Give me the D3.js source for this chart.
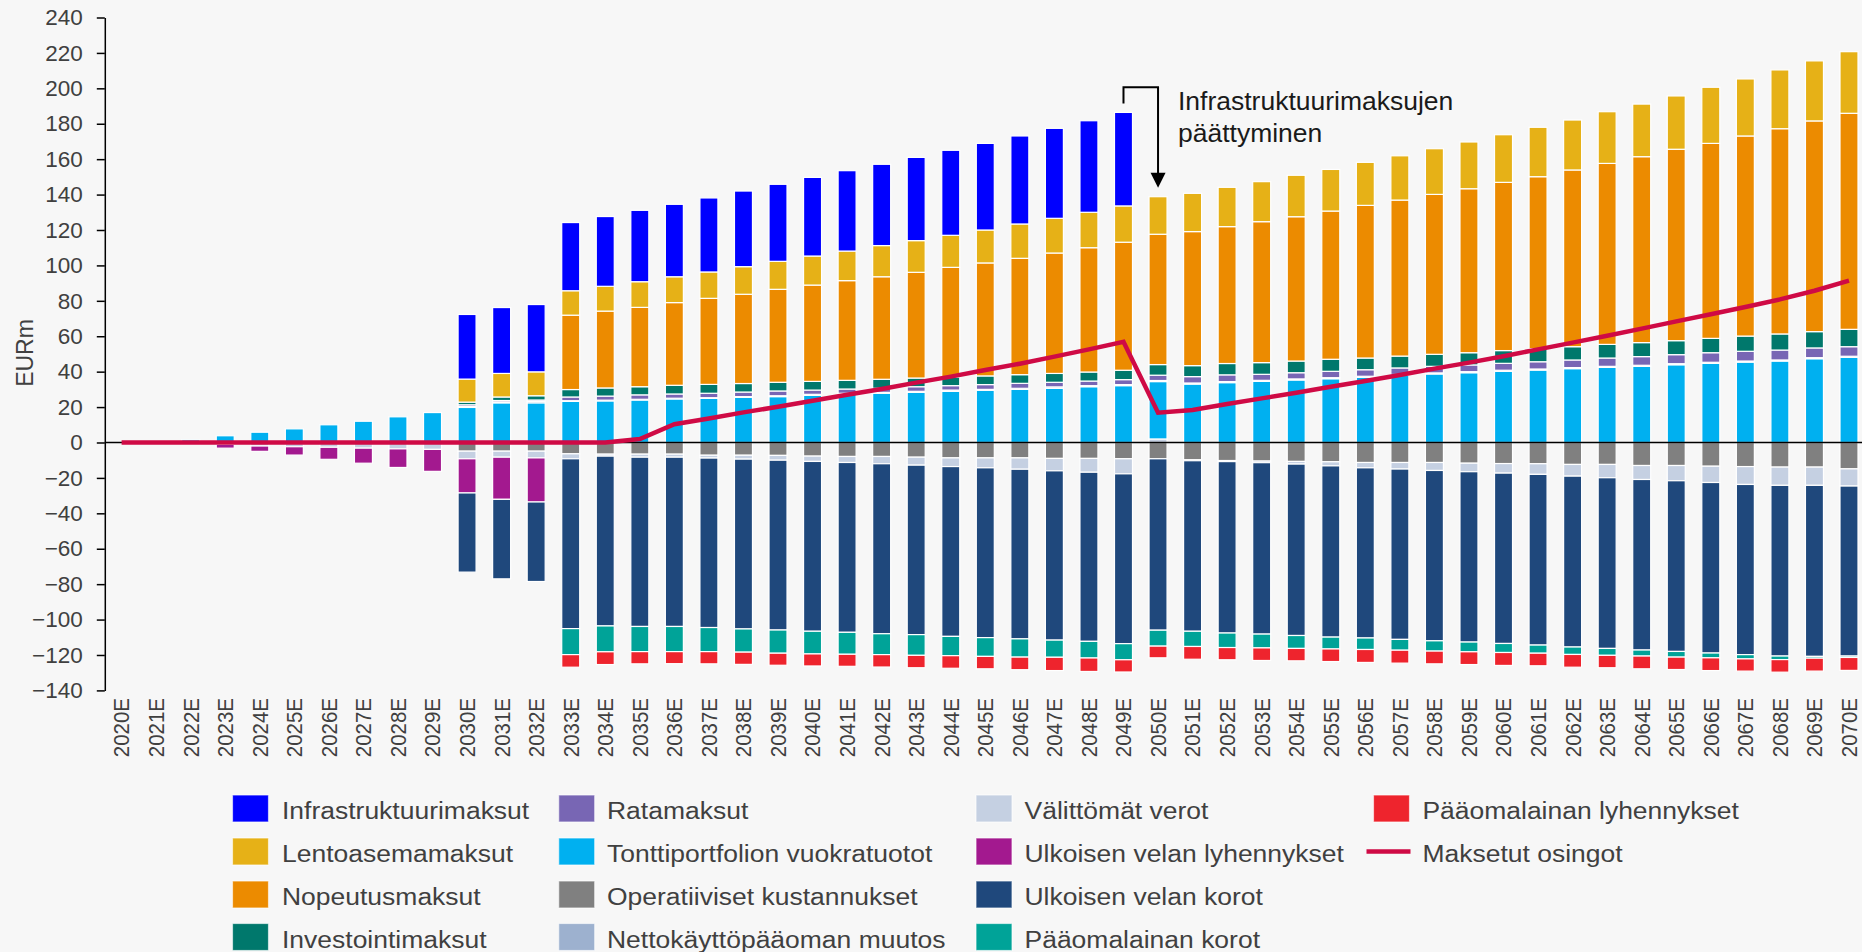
<!DOCTYPE html>
<html>
<head>
<meta charset="utf-8">
<script src="https://cdn.jsdelivr.net/npm/d3@7"></script>
<style>
  html, body { margin: 0; padding: 0; background: #f7f7f7; }
  svg { display: block; font-family: "Liberation Sans", Arial, sans-serif; }
</style>
</head>
<body>
<div id="chart"></div>
<script>
// category labels
const years = [
  '2020E','2021E','2022E','2023E','2024E','2025E','2026E','2027E','2028E','2029E',
  '2030E','2031E','2032E','2033E','2034E','2035E','2036E','2037E','2038E','2039E',
  '2040E','2041E','2042E','2043E','2044E','2045E','2046E','2047E','2048E','2049E',
  '2050E','2051E','2052E','2053E','2054E','2055E','2056E','2057E','2058E','2059E',
  '2060E','2061E','2062E','2063E','2064E','2065E','2066E','2067E','2068E','2069E','2070E'
];

// EURm
const tontti = [0, 0, 1.5, 3.8, 5.8, 7.7, 10.0, 12.0, 14.5, 16.9,
  19.8, 22.4, 22.4, 23.2, 23.5, 24.0, 24.6, 24.9, 25.5, 25.9,
  26.6, 27.2, 27.8, 28.3, 28.9, 29.5, 30.0, 30.6, 31.5, 32.1,
  32.4, 33.0, 33.8, 34.5, 35.3, 36.0, 36.8, 37.9, 38.7, 39.4,
  40.2, 40.9, 41.7, 42.4, 43.0, 43.9, 44.7, 45.4, 46.0, 47.3, 48.1];
const netto = [0, 0, 0, 0, 0, 0, 0, 0, 0, 0,
  0.5, 0.5, 0.8, 0.4, 0.4, 0.4, 0.4, 0.4, 0.4, 0.5,
  0.6, 0.6, 0.5, 0.6, 0.7, 0.5, 0.6, 0.8, 0.6, 0.6,
  0.6, 0.6, 0.6, 0.6, 0.6, 0.6, 0.6, 0.5, 0.6, 0.6,
  0.6, 0.6, 0.6, 0.6, 0.6, 0.6, 0.6, 0.6, 0.6, 0.6, 0.6];
const rata = [0, 0, 0, 0, 0, 0, 0, 0, 0, 0,
  1.0, 0.8, 0.8, 2.1, 2.3, 2.5, 2.4, 2.5, 2.6, 2.7,
  2.4, 2.4, 2.3, 2.6, 2.5, 2.7, 2.8, 2.6, 2.6, 2.8,
  3.0, 3.6, 3.8, 3.4, 3.5, 3.6, 3.7, 3.7, 3.7, 3.8,
  3.9, 4.1, 4.3, 4.7, 4.9, 5.1, 5.4, 5.5, 5.6, 5.5, 5.4];
const investointi = [0, 0, 0, 0, 0, 0, 0, 0, 0, 0,
  1.5, 2.0, 2.4, 4.2, 4.6, 4.6, 4.9, 5.0, 4.8, 4.9,
  4.9, 4.9, 5.1, 4.9, 4.9, 4.9, 4.9, 5.0, 5.1, 5.3,
  6.0, 6.2, 6.4, 6.6, 6.6, 6.8, 6.6, 6.7, 6.8, 6.9,
  7.2, 7.4, 7.5, 7.7, 7.9, 7.9, 8.1, 8.6, 9.1, 9.2, 9.8];
const nopeutus = [0, 0, 0, 0, 0, 0, 0, 0, 0, 0,
  0, 0, 0, 42.0, 43.4, 44.8, 46.7, 48.6, 50.4, 52.5,
  54.4, 56.3, 57.9, 59.7, 61.9, 63.8, 65.7, 68.0, 70.2, 72.3,
  73.6, 75.7, 77.3, 79.6, 81.5, 83.7, 86.2, 88.1, 90.3, 92.6,
  95.0, 97.1, 99.8, 102.2, 105.0, 108.1, 110.1, 113.0, 115.9, 119.0, 122.0];
const lentoasema = [0, 0, 0, 0, 0, 0, 0, 0, 0, 0,
  13.0, 13.3, 13.5, 13.8, 14.0, 14.5, 14.6, 14.9, 15.6, 15.8,
  16.4, 16.7, 17.6, 17.9, 18.1, 18.6, 19.4, 19.6, 20.0, 20.5,
  21.2, 21.6, 22.2, 22.6, 23.4, 23.5, 24.3, 25.0, 25.8, 26.4,
  26.9, 27.9, 28.2, 29.2, 29.7, 30.1, 31.7, 32.2, 33.2, 33.9, 34.8];
const infra = [0, 0, 0, 0, 0, 0, 0, 0, 0, 0,
  36.5, 37.2, 38.0, 38.5, 39.4, 40.3, 40.9, 41.8, 42.7, 43.5,
  44.4, 45.4, 45.9, 47.0, 48.0, 48.9, 49.7, 50.8, 51.7, 52.8,
  0, 0, 0, 0, 0, 0, 0, 0, 0, 0,
  0, 0, 0, 0, 0, 0, 0, 0, 0, 0, 0];
const operatiiviset = [0, 0, 0, 0, 0, 0, 0, 0, 0, 0,
  -4.9, -4.9, -4.9, -6.4, -6.6, -6.6, -6.6, -7.2, -7.2, -7.3,
  -7.7, -7.9, -7.9, -8.3, -8.7, -8.7, -8.7, -9.0, -9.0, -9.2,
  -9.2, -9.8, -10.2, -10.5, -10.7, -10.9, -11.3, -11.3, -11.3, -11.7,
  -11.9, -12.0, -12.4, -12.4, -13.0, -13.0, -13.4, -13.6, -13.9, -13.9, -14.9];
const verot = [0, 0, -0.3, -1.0, -2.0, -2.4, -2.7, -3.2, -3.6, -3.9,
  -4.3, -3.4, -3.8, -2.8, -1.1, -1.7, -1.7, -1.6, -2.2, -2.7,
  -3.0, -3.4, -4.1, -4.5, -4.9, -5.6, -6.4, -7.0, -7.8, -8.5,
  2.0, -0.5, -0.6, -0.9, -1.5, -2.3, -3.0, -3.7, -4.5, -4.8,
  -5.4, -6.0, -6.6, -7.5, -7.9, -8.6, -9.2, -10.1, -10.3, -10.3, -9.7];
const ulkLyhennys = [0, 0, -0.6, -2.2, -3.0, -4.7, -6.8, -8.5, -10.5, -12.4,
  -19.3, -23.8, -24.9, 0, 0, 0, 0, 0, 0, 0,
  0, 0, 0, 0, 0, 0, 0, 0, 0, 0,
  0, 0, 0, 0, 0, 0, 0, 0, 0, 0,
  0, 0, 0, 0, 0, 0, 0, 0, 0, 0, 0];
const ulkKorot = [0, 0, 0, 0, 0, 0, 0, 0, 0, 0,
  -44.7, -44.9, -44.9, -95.9, -95.9, -95.6, -95.6, -95.7, -95.9, -95.9,
  -95.9, -95.9, -96.0, -95.7, -95.9, -95.9, -95.8, -95.6, -95.5, -95.9,
  -96.8, -96.3, -96.8, -96.8, -96.8, -96.7, -96.1, -96.2, -96.2, -96.2,
  -96.2, -96.4, -96.5, -96.4, -96.3, -96.4, -96.3, -96.1, -96.4, -96.6, -96.0];
const plKorot = [0, 0, 0, 0, 0, 0, 0, 0, 0, 0,
  0, 0, 0, -14.7, -14.6, -14.2, -14.2, -13.6, -13.1, -13.1,
  -12.8, -12.4, -11.8, -11.7, -10.9, -10.6, -10.3, -9.7, -9.4, -9.1,
  -9.0, -8.6, -8.2, -7.8, -7.3, -6.7, -6.5, -6.1, -5.8, -5.5,
  -5.1, -4.6, -4.2, -3.9, -3.4, -3.2, -2.7, -2.4, -2.0, -1.0, -0.8];
const plLyhennys = [0, 0, 0, 0, 0, 0, 0, 0, 0, 0,
  0, 0, 0, -7.1, -7.2, -6.9, -6.8, -6.9, -6.9, -6.8,
  -6.8, -6.8, -7.0, -7.0, -7.1, -7.0, -7.1, -7.5, -7.6, -6.9,
  -6.6, -7.2, -6.9, -7.1, -7.0, -7.1, -7.3, -7.3, -7.2, -7.2,
  -7.3, -7.1, -7.2, -7.0, -7.2, -7.0, -7.2, -6.9, -7.1, -7.3, -7.3];
const osingot = [0, 0, 0, 0, 0, 0, 0, 0, 0, 0,
  0, 0, 0, 0, 0, 2.0, 10.3, 13.6, 17.0, 20.2,
  23.6, 27.0, 30.2, 33.8, 37.2, 40.9, 44.5, 48.5, 52.6, 56.9,
  16.8, 18.4, 21.7, 24.9, 28.1, 31.5, 34.7, 38.1, 41.7, 45.1,
  48.7, 52.6, 56.4, 60.3, 64.3, 68.4, 72.4, 76.5, 80.8, 85.7, 91.4];

const yTicks = [-140, -120, -100, -80, -60, -40, -20, 0, 20, 40, 60, 80, 100, 120, 140, 160, 180, 200, 220, 240];

// stacking order (diverging): first keys sit nearest to zero
const series = [
  {key: 'operatiiviset', label: 'Operatiiviset kustannukset', color: '#808080', values: operatiiviset},
  {key: 'verot', label: 'Välittömät verot', color: '#c5d0e2', values: verot},
  {key: 'tontti', label: 'Tonttiportfolion vuokratuotot', color: '#00b0f0', values: tontti},
  {key: 'netto', label: 'Nettokäyttöpääoman muutos', color: '#9db1cf', values: netto},
  {key: 'rata', label: 'Ratamaksut', color: '#7866b4', values: rata},
  {key: 'investointi', label: 'Investointimaksut', color: '#00786c', values: investointi},
  {key: 'nopeutus', label: 'Nopeutusmaksut', color: '#ec8b00', values: nopeutus},
  {key: 'lentoasema', label: 'Lentoasemamaksut', color: '#e6b117', values: lentoasema},
  {key: 'infra', label: 'Infrastruktuurimaksut', color: '#0000ff', values: infra},
  {key: 'ulkLyhennys', label: 'Ulkoisen velan lyhennykset', color: '#a3198f', values: ulkLyhennys},
  {key: 'ulkKorot', label: 'Ulkoisen velan korot', color: '#1f487c', values: ulkKorot},
  {key: 'plKorot', label: 'Pääomalainan korot', color: '#00a398', values: plKorot},
  {key: 'plLyhennys', label: 'Pääomalainan lyhennykset', color: '#ee242d', values: plLyhennys}
];
const lineColor = '#cf0a45';

// legend columns, top to bottom
const legendCols = [
  ['infra', 'lentoasema', 'nopeutus', 'investointi'],
  ['rata', 'tontti', 'operatiiviset', 'netto'],
  ['verot', 'ulkLyhennys', 'ulkKorot', 'plKorot'],
  ['plLyhennys', 'osingot']
];

const width = 1862, height = 952;
const svg = d3.select('#chart').append('svg')
  .attr('width', width).attr('height', height);
svg.append('rect').attr('width', width).attr('height', height).attr('fill', '#f7f7f7');

const x = d3.scalePoint().domain(years).range([121.6, 1849]);
const y = d3.scaleLinear().domain([-140, 240]).range([690.4, 17.5]);
const barW = 18;
const axisX = 104.8;

const rows = years.map((yr, i) => {
  const r = {year: yr};
  series.forEach(s => { r[s.key] = s.values[i]; });
  return r;
});
const stacked = d3.stack()
  .keys(series.map(s => s.key))
  .offset(d3.stackOffsetDiverging)(rows);
const colorOf = Object.fromEntries(series.map(s => [s.key, s.color]));

// bars
const barG = svg.append('g');
stacked.forEach(layer => {
  barG.append('g')
    .attr('fill', colorOf[layer.key])
    .selectAll('rect')
    .data(layer.filter(d => Math.abs(d[1] - d[0]) > 0.001))
    .join('rect')
    .attr('x', d => x(d.data.year) - barW / 2)
    .attr('width', barW)
    .attr('y', d => y(Math.max(d[0], d[1])))
    .attr('height', d => Math.abs(y(d[0]) - y(d[1])))
    .attr('stroke', '#ffffff')
    .attr('stroke-width', 1.2);
});

// y axis
const yAxis = svg.append('g')
  .attr('transform', `translate(${axisX},0)`)
  .call(d3.axisLeft(y).tickValues(yTicks).tickSize(8).tickPadding(14).tickSizeOuter(0));
yAxis.select('.domain').attr('stroke', '#000').attr('stroke-width', 1.5);
yAxis.selectAll('.tick line').attr('stroke', '#000').attr('stroke-width', 1.5);
yAxis.selectAll('.tick text')
  .attr('fill', '#404040')
  .style('font-size', '22.5px')
  .style('font-family', '"Liberation Sans", Arial, sans-serif');

svg.append('text')
  .attr('transform', `translate(33,353) rotate(-90)`)
  .attr('text-anchor', 'middle')
  .attr('fill', '#404040')
  .style('font-size', '23px')
  .text('EURm');

// zero line
svg.append('line')
  .attr('x1', axisX).attr('x2', width)
  .attr('y1', y(0)).attr('y2', y(0))
  .attr('stroke', '#000').attr('stroke-width', 1.6);

// x labels
svg.append('g')
  .selectAll('text')
  .data(years)
  .join('text')
  .attr('transform', d => `translate(${x(d)},698) rotate(-90) scale(1,1.1)`)
  .attr('text-anchor', 'end')
  .attr('dy', '0.35em')
  .attr('fill', '#404040')
  .style('font-size', '20.5px')
  .text(d => d);

// dividends line
const line = d3.line()
  .x((d, i) => x(years[i]))
  .y(d => y(d));
svg.append('path')
  .datum(osingot)
  .attr('d', line)
  .attr('fill', 'none')
  .attr('stroke', lineColor)
  .attr('stroke-width', 4.5)
  .attr('stroke-linejoin', 'miter');

// annotation: end of infrastructure fees
const iFrom = years.indexOf('2049E'), iTo = years.indexOf('2050E');
const x1 = x(years[iFrom]), x2 = x(years[iTo]);
const topY = 87.3;
const tipY = y(d3.sum(stacked, l => Math.max(0, l[iTo][1] - Math.max(0, l[iTo][0])))) - 9;
svg.append('path')
  .attr('d', `M${x1},${y(infra[iFrom] + lentoasema[iFrom] + nopeutus[iFrom] + investointi[iFrom] + rata[iFrom] + netto[iFrom] + tontti[iFrom]) - 9}V${topY}H${x2}V${tipY - 12}`)
  .attr('fill', 'none')
  .attr('stroke', '#000')
  .attr('stroke-width', 2);
svg.append('path')
  .attr('d', `M${x2 - 7.5},${tipY - 15}L${x2 + 7.5},${tipY - 15}L${x2},${tipY}Z`)
  .attr('fill', '#000');
const note = svg.append('g')
  .attr('fill', '#1a1a1a')
  .style('font-size', '25px');
note.append('text').attr('transform', 'translate(1178,110) scale(1.06,1)').text('Infrastruktuurimaksujen');
note.append('text').attr('transform', 'translate(1178,142) scale(1.06,1)').text('päättyminen');

// legend
const colX = [[232.5, 282], [558.7, 607], [976, 1024.5], [1373.5, 1422.4]];
const rowY = [795, 838, 881, 923.5];
const labelOf = Object.fromEntries(series.map(s => [s.key, s.label]));
labelOf.osingot = 'Maksetut osingot';
const legend = svg.append('g');
legendCols.forEach((col, ci) => {
  col.forEach((key, ri) => {
    const g = legend.append('g');
    const sx = colX[ci][0], tx = colX[ci][1], ty = rowY[ri];
    if (key === 'osingot') {
      g.append('line')
        .attr('x1', sx - 7).attr('x2', sx + 37)
        .attr('y1', ty + 13.5).attr('y2', ty + 13.5)
        .attr('stroke', lineColor).attr('stroke-width', 4.5);
    } else {
      g.append('rect')
        .attr('x', sx).attr('y', ty)
        .attr('width', 36).attr('height', 27)
        .attr('fill', colorOf[key])
        .attr('stroke', '#ffffff').attr('stroke-opacity', 0.6).attr('stroke-width', 1.2);
    }
    g.append('text')
      .attr('transform', `translate(${tx},${ty + 24}) scale(1.09,1)`)
      .attr('fill', '#404040')
      .style('font-size', '24.3px')
      .text(labelOf[key]);
  });
});
</script>
</body>
</html>
